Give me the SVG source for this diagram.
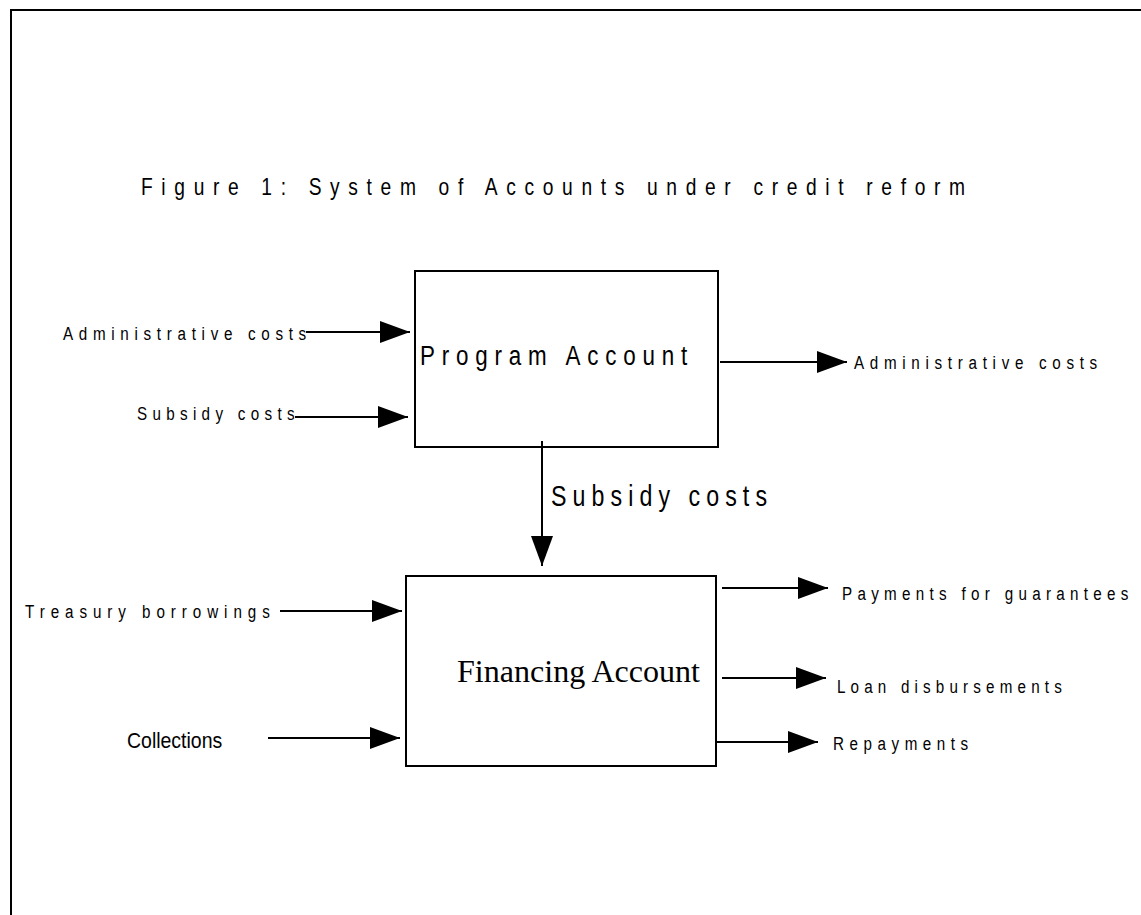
<svg xmlns="http://www.w3.org/2000/svg" width="1141" height="915" viewBox="0 0 1141 915">
<style>
.n{font-family:"Liberation Sans",Arial,sans-serif;fill:#000}
.s{font-family:"Liberation Serif","Times New Roman",serif;fill:#000}
.box{fill:#fff;stroke:#000;stroke-width:2}
.ln{stroke:#000;stroke-width:2;fill:none}
</style>
<defs>
<marker id="arr" markerUnits="userSpaceOnUse" markerWidth="31" markerHeight="22" viewBox="0 0 31 22" refX="30" refY="11" orient="auto">
<path d="M0,0 L30,11 L0,22 Z" fill="#000"/>
</marker>
</defs>
<rect width="1141" height="915" fill="#fff"/>
<g id="frame">
<path d="M11,915 L11,10 L1141,10" class="ln" stroke-width="3"/>
</g>
<g id="title">
<text class="n" transform="translate(141,195) scale(0.8,1)" font-size="24" textLength="1030" lengthAdjust="spacing">Figure 1: System of Accounts under credit reform</text>
</g>
<g id="program-account">
<rect class="box" x="415" y="271" width="303" height="176"/>
<text class="n" transform="translate(420,365) scale(0.8,1)" font-size="28" textLength="334" lengthAdjust="spacing">Program Account</text>
</g>
<g id="financing-account">
<rect class="box" x="406" y="576" width="310" height="190"/>
<text class="s" x="457" y="682" font-size="32" textLength="243" lengthAdjust="spacingAndGlyphs">Financing Account</text>
</g>
<g id="connectors">
<line class="ln" x1="306" y1="332" x2="410" y2="332" marker-end="url(#arr)"/>
<line class="ln" x1="295" y1="417" x2="408" y2="417" marker-end="url(#arr)"/>
<line class="ln" x1="720" y1="362" x2="847" y2="362" marker-end="url(#arr)"/>
<line class="ln" x1="542" y1="441" x2="542" y2="566" marker-end="url(#arr)"/>
<line class="ln" x1="280" y1="611" x2="402" y2="611" marker-end="url(#arr)"/>
<line class="ln" x1="268" y1="738" x2="400" y2="738" marker-end="url(#arr)"/>
<line class="ln" x1="722" y1="588" x2="828" y2="588" marker-end="url(#arr)"/>
<line class="ln" x1="722" y1="678" x2="826" y2="678" marker-end="url(#arr)"/>
<line class="ln" x1="716" y1="742" x2="818" y2="742" marker-end="url(#arr)"/>
</g>
<g id="labels">
<text class="n" transform="translate(63,340) scale(0.8,1)" font-size="19" textLength="304" lengthAdjust="spacing">Administrative costs</text>
<text class="n" transform="translate(137,420) scale(0.8,1)" font-size="19" textLength="197" lengthAdjust="spacing">Subsidy costs</text>
<text class="n" transform="translate(854,369) scale(0.8,1)" font-size="19" textLength="304" lengthAdjust="spacing">Administrative costs</text>
<text class="n" transform="translate(551,506) scale(0.8,1)" font-size="29" textLength="270" lengthAdjust="spacing">Subsidy costs</text>
<text class="n" transform="translate(25,618) scale(0.8,1)" font-size="19" textLength="306" lengthAdjust="spacing">Treasury borrowings</text>
<text class="n" transform="translate(127,748) scale(0.8,1)" font-size="22" textLength="119" lengthAdjust="spacingAndGlyphs">Collections</text>
<text class="n" transform="translate(842,600) scale(0.8,1)" font-size="19" textLength="358" lengthAdjust="spacing">Payments for guarantees</text>
<text class="n" transform="translate(837,693) scale(0.8,1)" font-size="19" textLength="281" lengthAdjust="spacing">Loan disbursements</text>
<text class="n" transform="translate(833,750) scale(0.8,1)" font-size="19" textLength="169" lengthAdjust="spacing">Repayments</text>
</g>
</svg>
